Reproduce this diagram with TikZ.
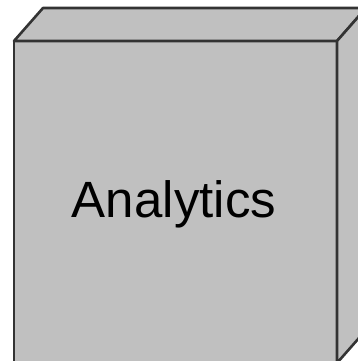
\documentclass[tikz,border=0pt]{standalone}
\usepackage{fontspec}
\setmainfont{Liberation Sans}
\definecolor{boxfill}{HTML}{C0C0C0}
\definecolor{boxline}{HTML}{333333}
\begin{document}
\begin{tikzpicture}[x=1pt,y=-1pt,
  face/.style={fill=boxfill,draw=boxline,line width=2.6pt,line join=round},
  label/.style={font=\fontsize{51}{60}\selectfont,text=black,inner sep=0pt,anchor=base}]
\useasboundingbox (0,0) rectangle (358,361);
\clip (0,0) rectangle (358,361);
% cube: front, top and right faces
\draw[face] (14,41) -- (337,41) -- (337,363) -- (14,363) -- cycle;
\draw[face] (14,41) -- (43,8) -- (366,8) -- (337,41) -- cycle;
\draw[face] (337,41) -- (366,8) -- (366,330) -- (337,363) -- cycle;
\node[label] (title) at (174,217) {Analytics};
\end{tikzpicture}
\end{document}
